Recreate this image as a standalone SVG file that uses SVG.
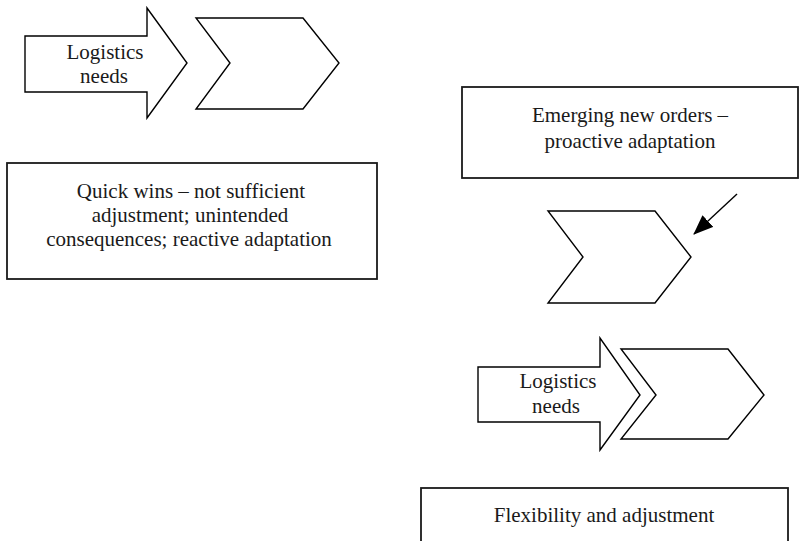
<svg xmlns="http://www.w3.org/2000/svg" width="800" height="541" viewBox="0 0 800 541">
  <defs>
    <style>
      .shape { fill: #ffffff; stroke: #000000; stroke-width: 1.4; stroke-linejoin: miter; }
      .box { fill: #ffffff; stroke: #1a1a1a; stroke-width: 1.8; }
      .label { font-size: 21px; fill: #1a1a1a; text-anchor: middle; }
      .link { fill: none; stroke: #000000; stroke-width: 1.4; }
    </style>
    <marker id="headBig" viewBox="0 0 20 16" refX="19" refY="8" markerWidth="20" markerHeight="16" markerUnits="userSpaceOnUse" orient="auto">
      <path d="M0,0 L20,8 L0,16 z" fill="#000000"/>
    </marker>
  </defs>
  <rect width="800" height="541" fill="#ffffff"/>

  <g font-family="Liberation Serif, DejaVu Serif, serif">
  <!-- top-left: block arrow followed by a chevron -->
  <g id="needs-arrow-top">
    <polygon class="shape" points="25,36 147,36 147,8 187,63 147,118 147,92 25,92"/>
    <text class="label" x="105" y="59">Logistics</text>
    <text class="label" x="104" y="83">needs</text>
  </g>
  <g id="chevron-top">
    <polygon class="shape" points="196,18 303,18 339,63 303,109 196,109 230,63"/>
  </g>

  <g id="box-quick-wins">
    <rect class="box" x="7" y="163" width="370" height="116"/>
    <text class="label" x="191" y="198">Quick wins – not sufficient</text>
    <text class="label" x="190" y="222">adjustment; unintended</text>
    <text class="label" x="189" y="246">consequences; reactive adaptation</text>
  </g>

  <!-- right column -->
  <g id="box-emerging">
    <rect class="box" x="462" y="87" width="336" height="91"/>
    <text class="label" x="630" y="122">Emerging new orders –</text>
    <text class="label" x="630" y="148">proactive adaptation</text>
  </g>

  <g id="chevron-middle">
    <polygon class="shape" points="548,211 655,211 691,257 655,303 548,303 583,257"/>
  </g>

  <g id="needs-arrow-bottom">
    <polygon class="shape" points="478,367 600,367 600,338 640,395 600,450 600,422 478,422"/>
    <text class="label" x="558" y="388">Logistics</text>
    <text class="label" x="556" y="413">needs</text>
  </g>
  <g id="chevron-bottom">
    <polygon class="shape" points="621,349 728,349 764,395 728,439 621,439 656,395"/>
  </g>

  <g id="box-flexibility">
    <rect class="box" x="421" y="488" width="367" height="70"/>
    <text class="label" x="604" y="522">Flexibility and adjustment</text>
  </g>
  </g>

  <g id="connectors">
    <line class="link" x1="737" y1="194" x2="694" y2="234" marker-end="url(#headBig)"/>
  </g>
</svg>
